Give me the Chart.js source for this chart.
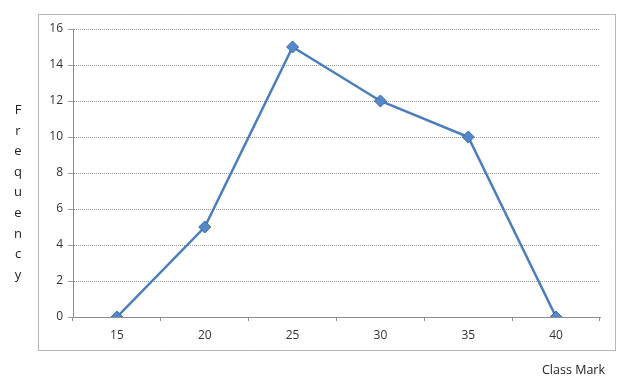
<!DOCTYPE html>
<html><head><meta charset="utf-8">
<script src="https://cdn.jsdelivr.net/npm/chart.js@4"></script>
<style>
html,body{margin:0;padding:0;background:#fff;}
#wrap{position:relative;width:632px;height:391px;}
canvas{position:absolute;left:0;top:0;}
.ylab{position:absolute;left:10px;top:99px;width:16px;font:13px "Open Sans",sans-serif;color:#222;text-align:center;line-height:20.6px;}
.xlab{position:absolute;left:542px;top:361px;font:12.5px "Open Sans",sans-serif;color:#222;}
</style></head><body>
<div id="wrap"><canvas id="c" width="632" height="391"></canvas>
<div class="ylab" id="ylab"></div>
<div class="xlab">Class Mark</div></div>
<script>
const categories = ['15','20','25','30','35','40'];
const frequency = [0, 5, 15, 12, 10, 0];
const yTitle = 'Frequency';
document.getElementById('ylab').innerHTML = yTitle.split('').map(ch => '<div>' + ch + '</div>').join('');

const outerBorder = {
  id: 'outerBorder',
  beforeDraw(chart) {
    const ctx = chart.ctx;
    ctx.save();
    ctx.strokeStyle = '#6e6e6e';
    ctx.lineWidth = 1;
    ctx.setLineDash([1, 1]);
    ctx.strokeRect(38.5, 14.5, 577, 336);
    ctx.restore();
  }
};

new Chart(document.getElementById('c'), {
  type: 'line',
  data: {
    labels: categories,
    datasets: [{
      data: frequency,
      borderColor: '#4a7ebb',
      borderWidth: 2.5,
      backgroundColor: '#4f81bd',
      pointBackgroundColor: '#5588c8',
      pointBorderColor: '#3a6aa5',
      pointBorderWidth: 1,
      pointStyle: 'rectRot',
      pointRadius: 6,
      tension: 0,
      fill: false
    }]
  },
  options: {
    responsive: false,
    animation: false,
    devicePixelRatio: 1,
    layout: { padding: { left: 39, top: 29, right: 32, bottom: 49 } },
    plugins: { legend: { display: false }, tooltip: { enabled: false } },
    scales: {
      x: {
        offset: true,
        grid: { offset: true, drawOnChartArea: false, drawTicks: true, tickLength: 4, color: '#8c8c8c' },
        border: { color: '#8c8c8c', width: 1 },
        ticks: { color: '#333', font: { family: 'Open Sans', size: 12 }, padding: 7, maxRotation: 0 },
        afterFit(s) { s.height = 25; }
      },
      y: {
        min: 0, max: 16,
        ticks: { stepSize: 2, color: '#333', font: { family: 'Open Sans', size: 12 }, padding: 5 },
        grid: { color: '#9a9a9a', tickLength: 5, tickColor: '#9a9a9a' },
        border: { color: '#8c8c8c', width: 1, dash: [1, 1] },
        afterFit(s) { s.width = 34; }
      }
    }
  },
  plugins: [outerBorder]
});
</script>
</body></html>
